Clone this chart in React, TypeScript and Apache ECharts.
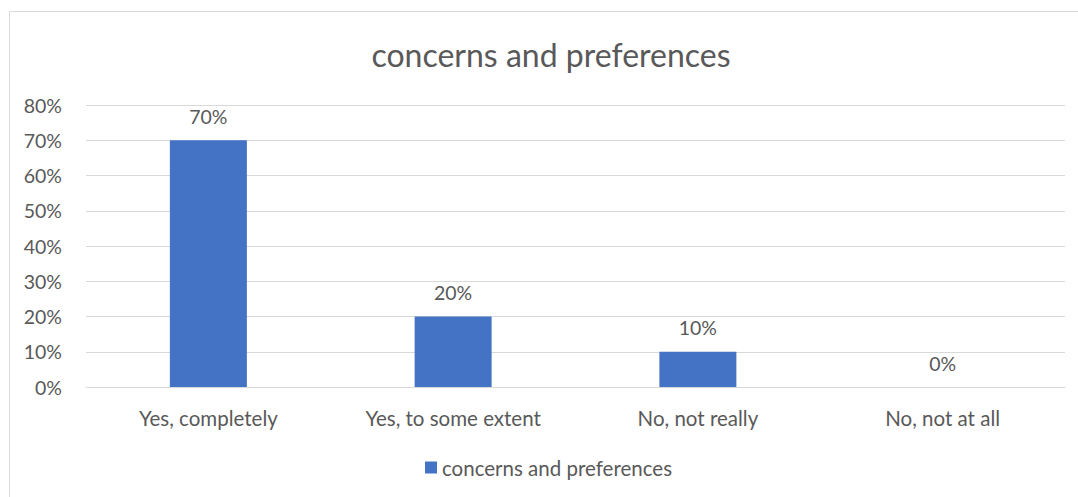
import React, { useEffect, useRef } from "react";
import * as echarts from "echarts";

const titleText = "concerns and preferences";
const seriesName = "concerns and preferences";
const categories = ["Yes, completely", "Yes, to some extent", "No, not really", "No, not at all"];
const values = [0.7, 0.2, 0.1, 0];

const FONT = "Lato, 'Open Sans', sans-serif";
const TEXT = "#595959";

export default function App() {
  const ref = useRef<HTMLDivElement>(null);
  useEffect(() => {
    const chart = echarts.init(ref.current!, null, { renderer: "svg" });
    chart.setOption({
      animation: false,
      backgroundColor: "#ffffff",
      textStyle: { fontFamily: FONT },
      graphic: [
        {
          type: "rect",
          shape: { x: 9.5, y: 11.5, width: 1100, height: 520 },
          style: { fill: "none", stroke: "#d9d9d9", lineWidth: 1 },
          silent: true,
        },
      ],
      title: {
        text: titleText,
        left: 546,
        textAlign: "center",
        top: 33,
        textStyle: { fontFamily: FONT, fontSize: 32, fontWeight: "normal", color: TEXT },
      },
      legend: {
        data: [seriesName],
        top: 452,
        left: 420,
        icon: "rect",
        itemWidth: 12,
        itemHeight: 12,
        itemGap: 5,
        textStyle: { fontFamily: FONT, fontSize: 20.5, color: TEXT },
      },
      grid: { left: 86, right: 13, top: 105, bottom: 110, containLabel: false },
      xAxis: {
        type: "category",
        data: categories,
        axisLine: { show: true, lineStyle: { color: "#d9d9d9" } },
        axisTick: { show: false },
        axisLabel: { fontFamily: FONT, fontSize: 20.5, color: TEXT, margin: 20 },
      },
      yAxis: {
        type: "value",
        min: 0,
        max: 0.8,
        interval: 0.1,
        axisLine: { show: false },
        axisTick: { show: false },
        splitLine: { lineStyle: { color: "#d9d9d9" } },
        axisLabel: {
          fontFamily: FONT,
          fontSize: 19.5,
          color: TEXT,
          margin: 24,
          formatter: (v: number) => Math.round(v * 100) + "%",
        },
      },
      series: [
        {
          name: seriesName,
          type: "bar",
          data: values,
          barWidth: 77,
          itemStyle: { color: "#4472C4" },
          label: {
            show: true,
            position: "top",
            distance: 14,
            fontFamily: FONT,
            fontSize: 19.5,
            color: TEXT,
            formatter: (p: any) => Math.round(p.value * 100) + "%",
          },
        },
      ],
    });
    return () => chart.dispose();
  }, []);
  return (
    <div
      ref={ref}
      style={{ position: "fixed", left: 0, top: 0, width: 1078, height: 497 }}
    />
  );
}
